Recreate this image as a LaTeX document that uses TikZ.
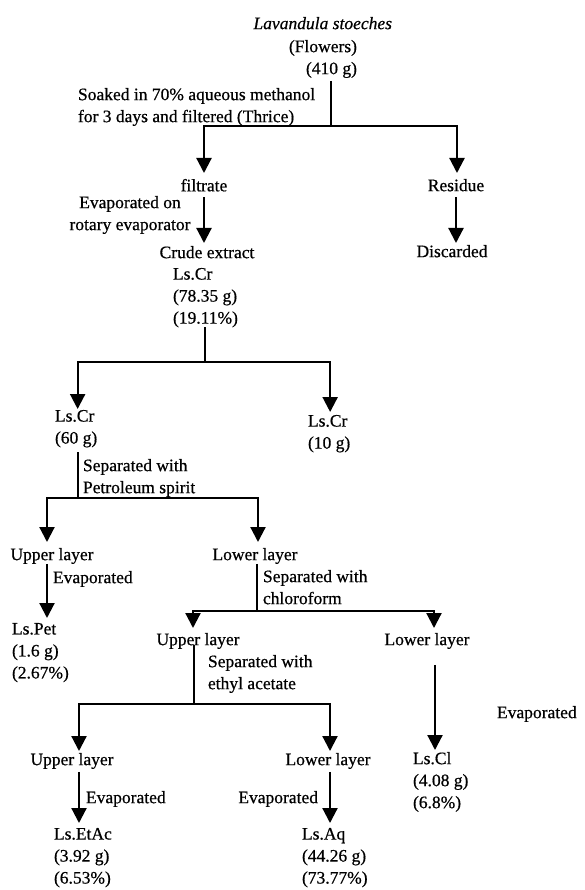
\documentclass[tikz,border=0pt]{standalone}
\usepackage{fontspec}
\setmainfont{Liberation Serif}[FakeBold=0.6]
\usetikzlibrary{arrows.meta,calc}
\newcommand{\dfont}{\fontsize{17.5}{22}\selectfont}
\tikzset{
  txt/.style={inner sep=0pt, outer sep=0pt, font=\dfont},
  lft/.style={txt, align=left, anchor=north west},
  ctr/.style={txt, align=center, anchor=north},
  ln/.style={line width=2.2pt},
  arr/.style={line width=2.2pt, -{Triangle[width=15pt,length=15pt]}}
}
\begin{document}
\begin{tikzpicture}[x=1pt,y=-1pt]
\useasboundingbox (0,0) rectangle (585,890);
% texts
\node[txt, anchor=north east] (n1) at (392,17) {\textit{Lavandula stoeches}};
\node[txt, align=right, anchor=north east] (n2) at (357,40) {(Flowers)\\(410 g)};
\node[lft] (lab1) at (78,88) {Soaked in 70\% aqueous methanol\\for 3 days and filtered (Thrice)};
\node[ctr] (filtrate) at (204,179) {filtrate};
\node[ctr] (residue) at (456,179) {Residue};
\node[ctr] (eval1) at (130,196) {Evaporated on\\rotary evaporator};
\node[ctr] (crude) at (207,246) {Crude extract};
\node[lft] (crdat) at (173,268) {Ls.Cr\\(78.35 g)\\(19.11\%)};
\node[ctr] (discarded) at (452,245) {Discarded};
\node[lft] (cr60) at (55,410) {Ls.Cr\\(60 g)};
\node[lft] (cr10) at (308,415) {Ls.Cr\\(10 g)};
\node[lft] (lab2) at (83,459) {Separated with\\Petroleum spirit};
\node[ctr] (ul1) at (52,548) {Upper layer};
\node[ctr] (ll1) at (255,548) {Lower layer};
\node[lft] (lab3) at (53,571) {Evaporated};
\node[lft] (lspet) at (12,623) {Ls.Pet\\(1.6 g)\\(2.67\%)};
\node[lft] (lab4) at (263,570) {Separated with\\chloroform};
\node[ctr] (ul2) at (198,633) {Upper layer};
\node[ctr] (ll2) at (427,633) {Lower layer};
\node[lft] (lab5) at (208,655) {Separated with\\ethyl acetate};
\node[lft] (lab6) at (497,706) {Evaporated};
\node[lft] (lscl) at (413,752) {Ls.Cl\\(4.08 g)\\(6.8\%)};
\node[ctr] (ul3) at (72,753) {Upper layer};
\node[ctr] (ll3) at (328,753) {Lower layer};
\node[lft] (lab7) at (86,791) {Evaporated};
\node[txt, anchor=north east] (lab8) at (318,791) {Evaporated};
\node[lft] (lsetac) at (54,828) {Ls.EtAc\\(3.92 g)\\(6.53\%)};
\node[lft] (lsaq) at (302,828) {Ls.Aq\\(44.26 g)\\(73.77\%)};
% junctions
\coordinate (j1) at (331,126);
\coordinate (j2) at (205,362);
\coordinate (j3) at (78,498);
\coordinate (j4) at (257,611);
\coordinate (j5) at (194,704);
% connectors
\draw[ln] ($(j1 |- n2.south)+(0,3)$) -- (j1);
\draw[arr] (j1) -| ($(filtrate.north)+(0,-6)$);
\draw[arr] (j1) -| ($(residue.north)+(1,-6)$);
\draw[arr] ($(filtrate.south)+(0,6)$) -- ($(filtrate.south |- crude.north)+(0,-3)$);
\draw[arr] ($(residue.south)+(0,6)$) -- ($(residue.south |- discarded.north)+(0,-2)$);
\draw[ln] (j2 |- crdat.south) -- (j2);
\draw[arr] (j2) -| ($(cr60.north)+(1.5,-1)$);
\draw[arr] (j2) -| ($(cr10.north)+(1,-3)$);
\draw[ln] ($(j3 |- cr60.south)+(0,5)$) -- (j3);
\draw[arr] (j3) -| ($(ul1.north)+(-5,-6)$);
\draw[arr] (j3) -| ($(ll1.north)+(3,-6)$);
\draw[arr] ($(ul1.south)+(-5,0)$) -- ($(ul1.south |- lspet.north)+(-5,-5)$);
\draw[ln] (j4 |- ll1.south) -- (j4);
\draw[arr] (j4) -| ($(ul2.north)+(-5,-5)$);
\draw[arr] (j4) -| ($(ll2.north)+(7,-5)$);
\draw[ln] ($(j5 |- ul2.south)+(0,-4)$) -- (j5);
\draw[arr] (j5) -| ($(ul3.north)+(7,-2)$);
\draw[arr] (j5) -| ($(ll3.north)+(2,-2)$);
\draw[arr] ($(ll2.south)+(8,16)$) -- ($(ll2.south |- lscl.north)+(8,-2)$);
\draw[arr] ($(ul3.south)+(7,3)$) -- ($(ul3.south |- lsetac.north)+(7,-5)$);
\draw[arr] ($(ll3.south)+(2,3)$) -- ($(ll3.south |- lsaq.north)+(2,-5)$);
\end{tikzpicture}
\end{document}
